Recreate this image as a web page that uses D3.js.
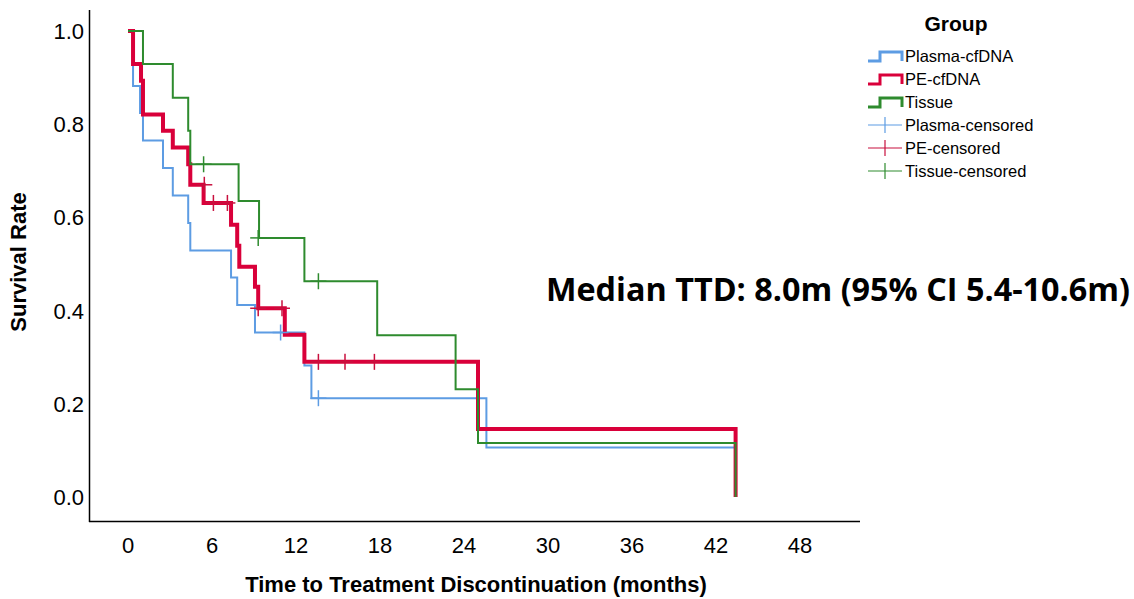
<!DOCTYPE html>
<html>
<head>
<meta charset="utf-8">
<script src="https://d3js.org/d3.v7.min.js"></script>
<style>
  body { margin: 0; background: #fff; }
  text { font-family: "Liberation Sans", Arial, sans-serif; }
</style>
</head>
<body>
<div id="chartContainer"></div>
<script>
// step points: [month, survival]
var plasmaSteps = [[0,1],[0.36,0.882],[0.86,0.824],[1.07,0.765],[2.5,0.706],[3.2,0.647],[4.3,0.588],[4.45,0.529],
  [7.36,0.471],[7.8,0.412],[9.07,0.353],[12.6,0.282],[13.1,0.212],[25.6,0.106],[43.4,0]];
var plasmaCensored = [[10.9,0.353],[13.6,0.212]];

var peSteps = [[0,1],[0.36,0.929],[0.93,0.893],[1.07,0.821],[2.5,0.786],[3.2,0.75],[4.3,0.714],[4.45,0.67],
  [5.4,0.631],[7.36,0.584],[7.8,0.539],[7.95,0.494],[9.07,0.451],[9.3,0.405],[11.2,0.348],[12.6,0.29],
  [25.0,0.146],[43.4,0]];
var peCensored = [[5.45,0.67],[6.1,0.631],[7.1,0.631],[9.3,0.405],[11.0,0.405],[13.6,0.29],[15.5,0.29],[17.6,0.29]];

var tissueSteps = [[0,1],[1.07,0.929],[3.2,0.857],[4.3,0.786],[4.45,0.714],[7.9,0.635],[9.36,0.556],
  [12.6,0.463],[17.8,0.347],[23.4,0.231],[25.0,0.116],[43.4,0]];
var tissueCensored = [[5.4,0.714],[9.3,0.556],[13.6,0.463]];

var xTicks = [0, 6, 12, 18, 24, 30, 36, 42, 48];
var yTicks = [0, 0.2, 0.4, 0.6, 0.8, 1.0];

var groups = [
  {name: "Plasma-cfDNA", steps: plasmaSteps, color: "#5d9ce3", width: 2},
  {name: "PE-cfDNA", steps: peSteps, color: "#d9003a", width: 4},
  {name: "Tissue", steps: tissueSteps, color: "#2e8b2e", width: 2}
];
var censorSets = [
  {name: "Plasma-censored", pts: plasmaCensored, color: "#5d9ce3"},
  {name: "PE-censored", pts: peCensored, color: "#c8103e"},
  {name: "Tissue-censored", pts: tissueCensored, color: "#2e8b2e"}
];

var svg = d3.select("#chartContainer").append("svg")
  .attr("width", 1134).attr("height", 599);

var x = d3.scaleLinear().domain([0, 48]).range([128, 800]);
var y = d3.scaleLinear().domain([0, 1]).range([497, 31]);

// axes lines
svg.append("line").attr("x1", 89.5).attr("x2", 89.5).attr("y1", 10).attr("y2", 522)
  .attr("stroke", "#000").attr("stroke-width", 1.5);
svg.append("line").attr("x1", 89).attr("x2", 860).attr("y1", 521.5).attr("y2", 521.5)
  .attr("stroke", "#000").attr("stroke-width", 1.5);

svg.selectAll(".xt").data(xTicks).enter().append("text")
  .attr("x", function(d) { return x(d); }).attr("y", 553)
  .attr("text-anchor", "middle").style("font-size", "22px").text(function(d) { return d; });
svg.selectAll(".yt").data(yTicks).enter().append("text")
  .attr("x", 84).attr("y", function(d) { return y(d) + 8; })
  .attr("text-anchor", "end").style("font-size", "22px").text(function(d) { return d.toFixed(1); });

svg.append("text").attr("x", 476).attr("y", 592).attr("text-anchor", "middle")
  .style("font-size", "22px").style("font-weight", "bold")
  .text("Time to Treatment Discontinuation (months)");
svg.append("text").attr("transform", "translate(26,262) rotate(-90)").attr("text-anchor", "middle")
  .style("font-size", "22px").style("font-weight", "bold").text("Survival Rate");

// step lines
var line = d3.line().x(function(d) { return x(d[0]); }).y(function(d) { return y(d[1]); })
  .curve(d3.curveStepAfter);
groups.forEach(function(g) {
  svg.append("path").datum(g.steps).attr("d", line)
    .attr("fill", "none").attr("stroke", g.color).attr("stroke-width", g.width);
});

// censor marks
censorSets.forEach(function(c) {
  var gc = svg.append("g");
  c.pts.forEach(function(p) {
    gc.append("line").attr("x1", x(p[0])).attr("x2", x(p[0]))
      .attr("y1", y(p[1]) - 8).attr("y2", y(p[1]) + 8)
      .attr("stroke", c.color).attr("stroke-width", 1.5);
    gc.append("line").attr("x1", x(p[0]) - 8).attr("x2", x(p[0]) + 8)
      .attr("y1", y(p[1])).attr("y2", y(p[1]))
      .attr("stroke", c.color).attr("stroke-width", 1.5);
  });
});

// legend
svg.append("text").attr("x", 956).attr("y", 31).attr("text-anchor", "middle")
  .style("font-size", "21px").style("font-weight", "bold").text("Group");
groups.forEach(function(g, i) {
  var ly = 56 + i * 23;
  svg.append("path")
    .attr("d", "M868," + (ly + 5) + "H880V" + (ly - 4) + "H902V" + (ly + 5))
    .attr("fill", "none").attr("stroke", g.color).attr("stroke-width", 3);
  svg.append("text").attr("x", 905).attr("y", ly + 6).style("font-size", "16.5px").text(g.name);
});
censorSets.forEach(function(c, i) {
  var ly = 125 + i * 23;
  svg.append("line").attr("x1", 868).attr("x2", 902).attr("y1", ly).attr("y2", ly)
    .attr("stroke", c.color).attr("stroke-width", 1.2);
  svg.append("line").attr("x1", 885).attr("x2", 885).attr("y1", ly - 8).attr("y2", ly + 8)
    .attr("stroke", c.color).attr("stroke-width", 1.2);
  svg.append("text").attr("x", 905).attr("y", ly + 6).style("font-size", "16.5px").text(c.name);
});

// annotation
svg.append("text").attr("x", 546).attr("y", 301)
  .attr("textLength", 584).attr("lengthAdjust", "spacingAndGlyphs")
  .style("font-family", "'Open Sans', sans-serif").style("font-size", "32px").style("font-weight", "bold")
  .text("Median TTD: 8.0m (95% CI 5.4-10.6m)");
</script>
</body>
</html>
